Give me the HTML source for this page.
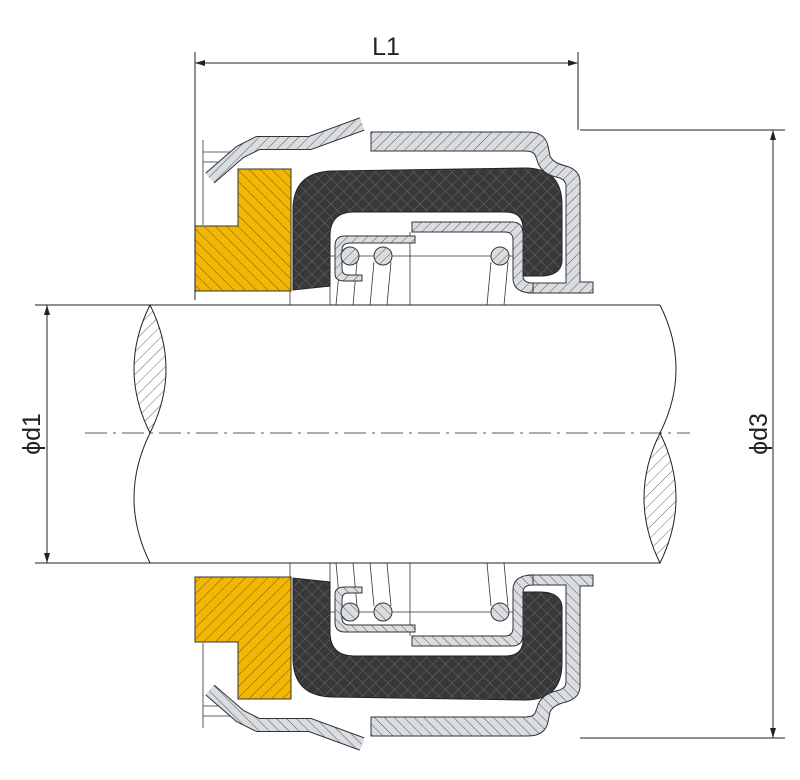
<!DOCTYPE html>
<html><head><meta charset="utf-8"><style>html,body{margin:0;padding:0;background:#fff}svg{display:block}</style></head>
<body>
<svg width="800" height="780" viewBox="0 0 800 780" xmlns="http://www.w3.org/2000/svg">
<defs>
<pattern id="hg" width="7" height="7" patternUnits="userSpaceOnUse" patternTransform="rotate(45)">
<rect width="7" height="7" fill="#d9dde1"/><line x1="0" y1="0" x2="0" y2="7" stroke="#555" stroke-width="1"/></pattern>
<pattern id="hy" width="8" height="8" patternUnits="userSpaceOnUse" patternTransform="rotate(-45)">
<rect width="8" height="8" fill="#f2b705"/><line x1="0" y1="0" x2="0" y2="8" stroke="#7a5c00" stroke-width="1"/></pattern>
<pattern id="hd" width="9" height="9" patternUnits="userSpaceOnUse" patternTransform="rotate(45)">
<rect width="9" height="9" fill="#383838"/><line x1="0" y1="0" x2="0" y2="9" stroke="#6a6a6a" stroke-width="1"/><line x1="0" y1="0" x2="9" y2="0" stroke="#6a6a6a" stroke-width="1"/></pattern>
<pattern id="hw" width="8" height="8" patternUnits="userSpaceOnUse" patternTransform="rotate(45)">
<rect width="8" height="8" fill="#fff"/><line x1="0" y1="0" x2="0" y2="8" stroke="#444" stroke-width="0.8"/></pattern>
<marker id="ar" viewBox="0 0 10 10" refX="10" refY="5" markerWidth="10" markerHeight="10" orient="auto-start-reverse" markerUnits="userSpaceOnUse"><path d="M0,2 L10,5 L0,8 Z" fill="#222"/></marker>
<g id="half" stroke="#333" stroke-width="1">
  <line x1="203" y1="140" x2="203" y2="225" stroke-width="0.8"/>
  <line x1="203" y1="152" x2="242" y2="152" stroke-width="0.8"/>
  <line x1="203" y1="162" x2="225" y2="162" stroke-width="0.8"/>
  <line x1="290" y1="291" x2="290" y2="305" stroke-width="0.8"/>
  <line x1="330" y1="256" x2="522" y2="256" stroke-width="0.8"/>
  <line x1="410" y1="232" x2="410" y2="305" stroke-width="0.8"/>
  <line x1="330" y1="240" x2="330" y2="305" stroke-width="0.8"/>
  <line x1="340" y1="262" x2="336" y2="305" stroke-width="0.8"/><line x1="357" y1="262" x2="353" y2="305" stroke-width="0.8"/>
  <line x1="374" y1="262" x2="370" y2="305" stroke-width="0.8"/><line x1="391" y1="262" x2="387" y2="305" stroke-width="0.8"/>
  <line x1="491" y1="262" x2="487" y2="305" stroke-width="0.8"/><line x1="508" y1="262" x2="504" y2="305" stroke-width="0.8"/>
  <path d="M195,226 L238,226 L238,169 L291,169 L291,291 L195,291 Z" fill="url(#hy)"/>
  <path d="M293,290 L293,210 Q293,172 332,171 L525,168 Q562,168 562,205 L562,262 Q560,276 540,276 L522,276 L523,228 Q523,212 505,212 L354,212 Q330,212 330,236 L330,286 Z" fill="url(#hd)" stroke="#222"/>
  <path d="M371,132 L528,132 Q545,132 548,146 L550,156 Q553,163 566,166 Q580,170 580,182 L580,282 L593,282 L593,293 L528,293 L522,283 L566,283 L566,186 Q566,179 556,177 Q540,173 537,160 L535,155 Q533,151 525,151 L371,151 Z" fill="url(#hg)"/>
  <path d="M412,222 L512,222 Q523,222 523,234 L523,276 Q523,283 533,283 L533,293 Q513,293 513,278 L513,240 Q513,232 505,232 L412,232 Z" fill="url(#hg)"/>
  <path d="M415,236 L345,236 Q335,236 335,246 L335,274 Q335,281 345,281 L362,281 L362,275 L348,275 Q342,275 342,268 L342,250 Q342,243 350,243 L415,243 Z" fill="url(#hg)"/>
  <circle cx="350" cy="256" r="9" fill="url(#hg)"/>
  <circle cx="383" cy="256" r="9" fill="url(#hg)"/>
  <circle cx="500" cy="256" r="9" fill="url(#hg)"/>
  <polyline points="210,178 240,152 258,143 310,143 362,124" fill="none" stroke="#333" stroke-width="14"/>
  <polyline points="210,178 240,152 258,143 310,143 362,124" fill="none" stroke="url(#hg)" stroke-width="12"/>
</g>
</defs>

<use href="#half"/>
<use href="#half" transform="translate(0,868) scale(1,-1)"/>

<g stroke="#222" stroke-width="1" fill="none">
  <line x1="35" y1="305" x2="660" y2="305"/>
  <line x1="35" y1="563" x2="660" y2="563"/>
  <path d="M150,305 Q118,369 150,433 Q182,369 150,305 Z" fill="url(#hw)"/>
  <path d="M150,433 Q118,498 150,563"/>
  <path d="M660,305 Q692,369 660,433"/>
  <path d="M660,433 Q628,498 660,563 Q692,498 660,433 Z" fill="url(#hw)"/>
  <line x1="85" y1="433" x2="690" y2="433" stroke-dasharray="22,6,3,6" stroke-width="0.8"/>
</g>

<g stroke="#222" stroke-width="1">
  <line x1="195" y1="52" x2="195" y2="300"/>
  <line x1="578" y1="52" x2="578" y2="130"/>
  <line x1="195" y1="63" x2="578" y2="63" marker-start="url(#ar)" marker-end="url(#ar)"/>
  <line x1="47" y1="305" x2="47" y2="563" marker-start="url(#ar)" marker-end="url(#ar)"/>
  <line x1="580" y1="130" x2="785" y2="130"/>
  <line x1="580" y1="738" x2="785" y2="738"/>
  <line x1="773" y1="130" x2="773" y2="738" marker-start="url(#ar)" marker-end="url(#ar)"/>
</g>
<g font-family="Liberation Sans, sans-serif" font-size="25" fill="#222">
  <text x="386" y="55" text-anchor="middle">L1</text>
  <text transform="translate(40,434) rotate(-90)" text-anchor="middle">ϕd1</text>
  <text transform="translate(767,434) rotate(-90)" text-anchor="middle">ϕd3</text>
</g>
</svg>
</body></html>
